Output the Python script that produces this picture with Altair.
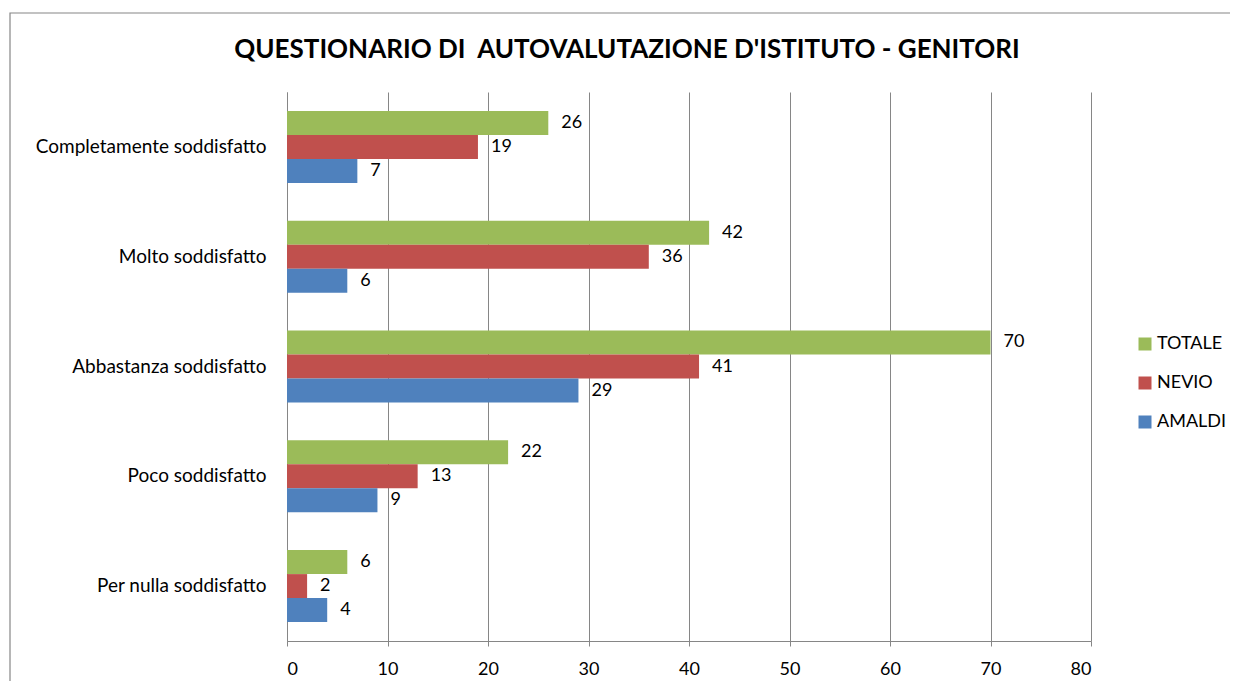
import altair as alt
import pandas as pd

categories = ["Completamente soddisfatto", "Molto soddisfatto", "Abbastanza soddisfatto",
              "Poco soddisfatto", "Per nulla soddisfatto"]
series = ["TOTALE", "NEVIO", "AMALDI"]
totale = [26, 42, 70, 22, 6]
nevio = [19, 36, 41, 13, 2]
amaldi = [7, 6, 29, 9, 4]
colors = ["#9BBB59", "#C0504D", "#4F81BD"]
title_text = "QUESTIONARIO DI \u00a0AUTOVALUTAZIONE D'ISTITUTO - GENITORI"

rows = []
for s, vals in zip(series, [totale, nevio, amaldi]):
    for c, v in zip(categories, vals):
        rows.append({"cat": c, "serie": s, "val": v})
df = pd.DataFrame(rows)

FONT = "Lato"
W, H = 804, 549

y_enc = alt.Y("cat:N", sort=categories, title=None,
              scale=alt.Scale(paddingInner=0.344, paddingOuter=0.172),
              axis=alt.Axis(labelFontSize=19, labelFont=FONT, labelColor="#000000",
                            labelPadding=21, labelLimit=400, ticks=False,
                            domainColor="#868686", domainWidth=1, grid=False))
yoff = alt.YOffset("serie:N", sort=series,
                   scale=alt.Scale(domain=series, paddingInner=0, paddingOuter=0))
x_enc = alt.X("val:Q", title=None,
              scale=alt.Scale(domain=[0, 80], nice=False),
              axis=alt.Axis(values=list(range(0, 81, 10)), labelFontSize=18, labelFont=FONT,
                            labelColor="#000000", labelPadding=14, tickSize=5,
                            tickColor="#868686", domainColor="#868686", gridColor="#868686",
                            gridWidth=1, grid=True))

base = alt.Chart(df)

one = pd.DataFrame({"t": [title_text]})

border = alt.Chart(one).mark_rect(
    fill=None, stroke="#868686", strokeWidth=1.2
).encode(x=alt.value(-277), y=alt.value(-79), x2=alt.value(1300), y2=alt.value(800))

title = alt.Chart(one).mark_text(
    fontSize=26, font=FONT, fontWeight="bold", color="#000000",
    align="center", baseline="middle"
).encode(x=alt.value(340), y=alt.value(-42), text="t:N")

bars = base.mark_bar().encode(
    x=x_enc,
    y=y_enc,
    yOffset=yoff,
    color=alt.Color("serie:N", sort=series,
                    scale=alt.Scale(domain=series, range=colors),
                    legend=alt.Legend(title=None, orient="none", legendX=849, legendY=243,
                                      labelFontSize=18, labelFont=FONT, labelColor="#000000",
                                      symbolType="square", symbolSize=169, symbolStrokeWidth=0,
                                      rowPadding=21, labelOffset=3)),
)

labels = base.mark_text(align="left", baseline="middle", dx=13, fontSize=18, font=FONT,
                        color="#000000").encode(
    x="val:Q",
    y=alt.Y("cat:N", sort=categories),
    yOffset=alt.YOffset("serie:N", sort=series),
    text="val:Q",
)

chart = alt.layer(border, title, bars, labels).properties(
    width=W, height=H,
    autosize=alt.AutoSizeParams(type="none"),
    padding={"left": 279, "top": 84, "right": 139, "bottom": 40},
).configure_view(stroke=None)

chart.save("out.html", embed_options={"renderer": "svg", "actions": False})
